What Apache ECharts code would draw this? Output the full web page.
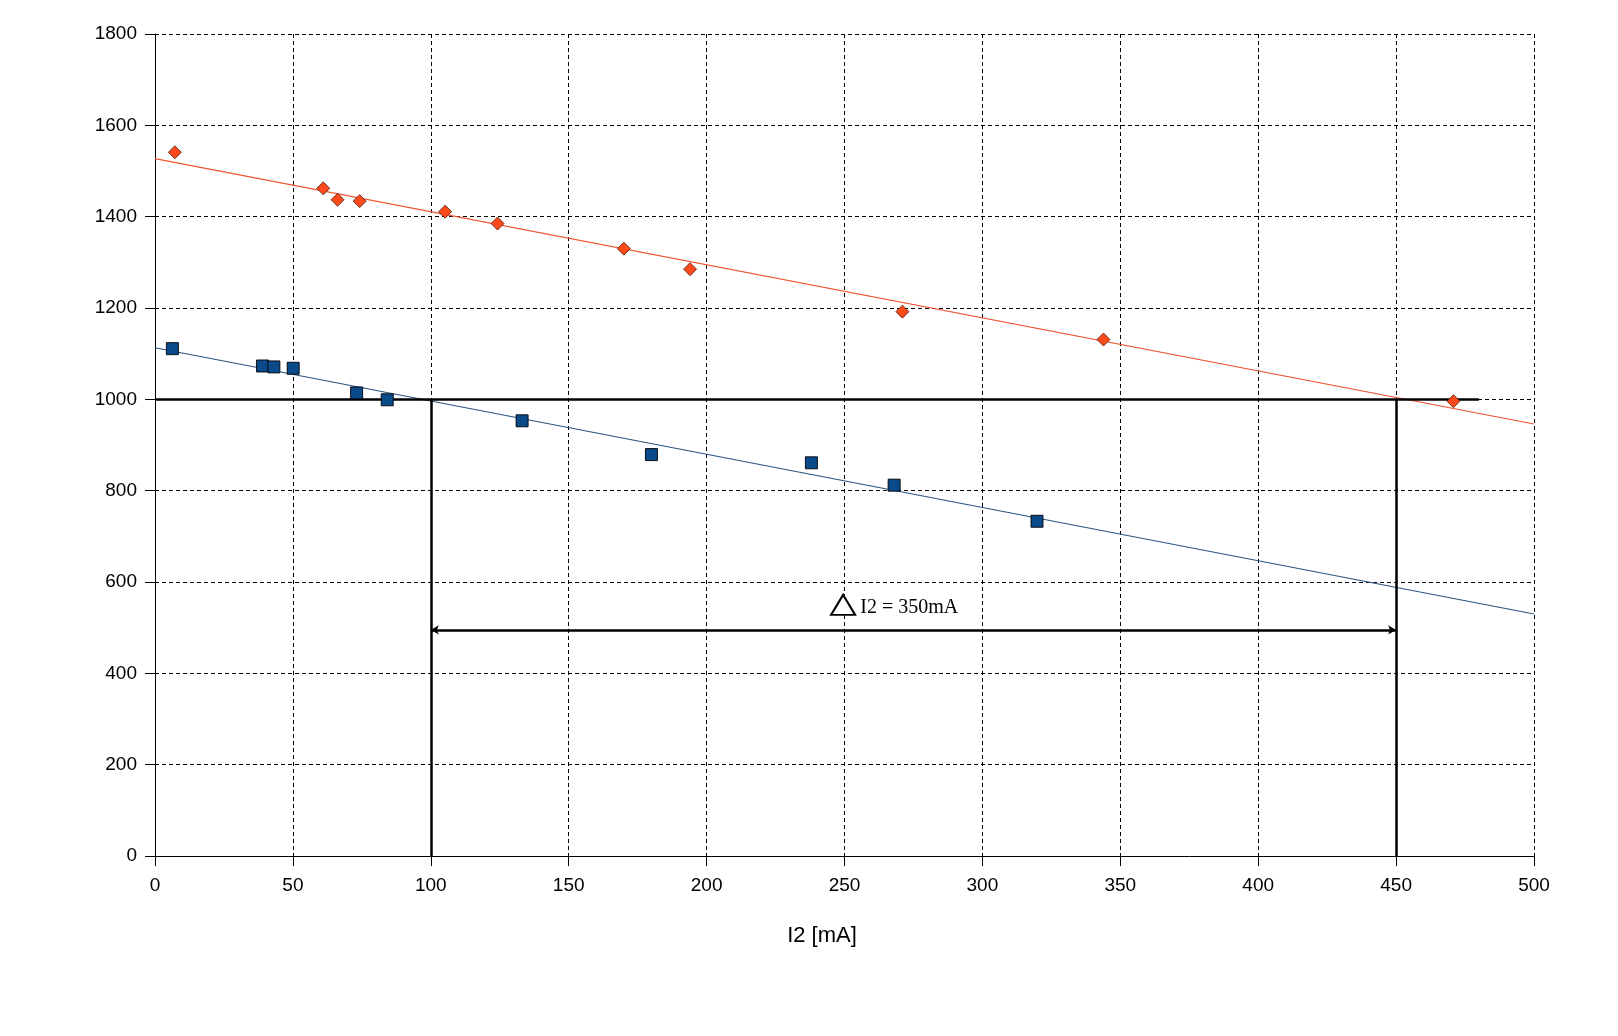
<!DOCTYPE html>
<html>
<head>
<meta charset="utf-8">
<script src="https://cdn.jsdelivr.net/npm/echarts@6/dist/echarts.min.js"></script>
<style>html,body{margin:0;padding:0;background:#fff;}#c{width:1618px;height:1036px;}</style>
</head>
<body>
<div id="c"></div>
<script>
// Orange diamonds (upper series): [I2 mA, value]
var orangeX = [7.2, 61.0, 66.2, 74.2, 105.2, 124.2, 170.0, 194.0, 271.0, 343.9, 470.8];
var orangeY = [1541, 1462, 1437, 1434, 1411, 1385, 1330, 1285, 1192, 1131, 996];
// Blue squares (lower series)
var blueX = [6.3, 39.0, 43.1, 50.1, 73.1, 84.2, 133.1, 180.0, 238.0, 268.0, 319.8];
var blueY = [1111, 1073, 1071, 1068, 1014, 999, 953, 879, 861, 812, 733];
// Trend lines (endpoints)
var orangeTrendX = [0, 500];
var orangeTrendY = [1527, 946];
var blueTrendX = [0, 500];
var blueTrendY = [1113, 530];
// Reference lines
var refLevel = 1000;
var refLevelEndX = 480;
var leftI = 100, rightI = 450;
var arrowY = 495;
var deltaLabel = 'I2 = 350mA';
var labelPos = [273.5, 544];
var trianglePos = [249.5, 550];
// Axes
var xTicks = [0, 50, 100, 150, 200, 250, 300, 350, 400, 450, 500];
var yTicks = [0, 200, 400, 600, 800, 1000, 1200, 1400, 1600, 1800];
var xTitle = 'I2 [mA]';

function zip(a, b) { return a.map(function (v, i) { return [v, b[i]]; }); }

var chart = echarts.init(document.getElementById('c'));
var axisCommon = {
  type: 'value',
  axisLine: { show: true, onZero: false, lineStyle: { color: '#000', width: 1 } },
  axisTick: { show: true, inside: false, length: 10, lineStyle: { color: '#000' } },
  splitLine: { show: true, lineStyle: { color: '#000', type: [4, 3], width: 1 } },
  axisLabel: { color: '#000', fontFamily: 'Liberation Sans, Arial', fontSize: 19, formatter: function (v) { return String(v); } }
};
var blackLine = { color: '#000', width: 2.5, type: 'solid' };
chart.setOption({
  animation: false,
  backgroundColor: '#fff',
  grid: { left: 155, right: 84, top: 34, bottom: 180, containLabel: false },
  xAxis: Object.assign({}, axisCommon, {
    min: xTicks[0], max: xTicks[xTicks.length - 1], interval: xTicks[1] - xTicks[0],
    axisLabel: Object.assign({}, axisCommon.axisLabel, { margin: 20 })
  }),
  yAxis: Object.assign({}, axisCommon, {
    min: yTicks[0], max: yTicks[yTicks.length - 1], interval: yTicks[1] - yTicks[0],
    axisLabel: Object.assign({}, axisCommon.axisLabel, { margin: 18 })
  }),
  graphic: [{
    type: 'text', x: 822, y: 936,
    style: { text: xTitle, fontFamily: 'Liberation Sans, Arial', fontSize: 22, fill: '#000', textAlign: 'center', textVerticalAlign: 'middle' }
  }],
  series: [
    {
      type: 'line', data: zip(orangeTrendX, orangeTrendY), symbol: 'none',
      lineStyle: { color: '#EE5533', width: 1.2 }, z: 2, silent: true
    },
    {
      type: 'line', data: zip(blueTrendX, blueTrendY), symbol: 'none',
      lineStyle: { color: '#2A5580', width: 1.2 }, z: 2, silent: true,
      markLine: {
        silent: true, symbol: 'none', label: { show: false }, animation: false,
        lineStyle: blackLine,
        data: [
          [{ coord: [0, refLevel] }, { coord: [refLevelEndX, refLevel] }],
          [{ coord: [leftI, refLevel] }, { coord: [leftI, 0] }],
          [{ coord: [rightI, refLevel] }, { coord: [rightI, 0] }],
          [{ coord: [leftI, arrowY], symbol: 'arrow', symbolSize: [7, 8] },
           { coord: [rightI, arrowY], symbol: 'arrow', symbolSize: [7, 8] }]
        ]
      },
      markPoint: {
        silent: true,
        data: [
          {
            coord: trianglePos, symbol: 'triangle', symbolSize: [24, 20],
            itemStyle: { color: '#fff', borderColor: '#000', borderWidth: 2 },
            label: { show: false }
          },
          {
            coord: labelPos, symbol: 'rect', symbolSize: [100, 26],
            itemStyle: { color: '#fff' },
            label: {
              show: true, position: 'inside', formatter: deltaLabel,
              fontFamily: 'Liberation Serif, Times New Roman', fontSize: 20, color: '#000'
            }
          }
        ]
      }
    },
    {
      type: 'scatter', data: zip(orangeX, orangeY), symbol: 'diamond', symbolSize: [13, 13],
      itemStyle: { color: '#FF4A1C', borderColor: '#4A1A0A', borderWidth: 0.8, opacity: 1 }, z: 5
    },
    {
      type: 'scatter', data: zip(blueX, blueY), symbol: 'rect', symbolSize: [12, 12],
      itemStyle: { color: '#0B4A8A', borderColor: '#000', borderWidth: 0.9, opacity: 1 }, z: 5
    }
  ]
});
</script>
</body>
</html>
